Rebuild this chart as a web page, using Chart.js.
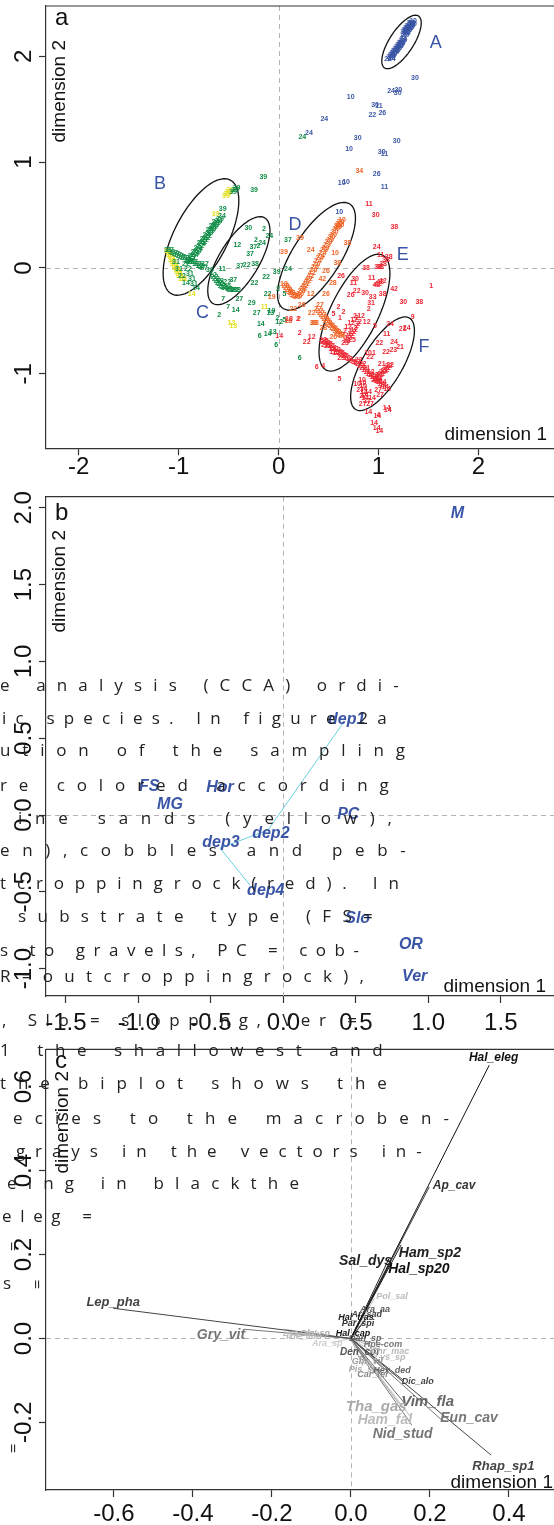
<!DOCTYPE html>
<html>
<head>
<meta charset="utf-8">
<script src="https://cdn.jsdelivr.net/npm/chart.js@4.4.1/dist/chart.umd.min.js"></script>
<style>
body{margin:0;background:#fff;width:554px;height:1525px;position:relative;overflow:hidden}
canvas{position:absolute;left:0}
#capt{position:absolute;left:0;top:0;width:554px;height:1525px;pointer-events:none;font-family:"Open Sans",sans-serif;font-size:17px;color:#222}
.ln{position:absolute;display:flex;justify-content:space-between;white-space:pre;line-height:1}
.rot{position:absolute;transform:rotate(-90deg);line-height:1}
</style>
</head>
<body>
<canvas id="ca" width="554" height="490" style="top:0"></canvas>
<canvas id="cb" width="554" height="545" style="top:490px"></canvas>
<canvas id="cc" width="554" height="490" style="top:1035px"></canvas>
<div id="capt"></div>
<script>
// ---- panel a : site scores, labelled by site number ----
var blueX = [1.260,1.275,1.290,1.305,1.320,1.335,1.345,1.280,1.315,1.330,
  1.115,1.130,1.145,1.160,1.175,1.190,1.205,1.220,1.235,1.245,1.140,1.175,1.210,1.225,1.132,1.095,
  1.365,1.125,1.198,1.192,0.722,0.965,1.005,0.938,1.038,0.457,0.304,0.792,1.182,0.705,1.032,1.058,0.982,0.632,0.675,1.058,0.608,
  1.270,1.285,1.300,1.315,1.330,1.345,1.255,1.270,1.285,1.300,1.320,1.128,1.150,1.168,1.185,1.200,1.215,1.232,1.250]
var blueY = [2.212,2.235,2.259,2.278,2.297,2.316,2.330,2.221,2.268,2.306,
  1.994,2.013,2.032,2.051,2.070,2.089,2.108,2.127,2.146,2.160,2.004,2.046,2.094,2.113,1.973,1.971,
  1.799,1.676,1.682,1.651,1.619,1.541,1.534,1.449,1.468,1.411,1.279,1.232,1.203,1.125,1.099,1.078,0.891,0.801,0.816,0.766,0.527,
  2.200,2.225,2.247,2.266,2.286,2.305,2.225,2.248,2.270,2.290,2.318,1.985,2.020,2.040,2.060,2.082,2.100,2.125,2.150]
var blueLab = [30,30,30,30,30,30,30,24,30,30,
  24,30,30,24,30,30,30,30,30,24,30,30,30,30,24,24,
  30,24,30,30,10,30,11,22,26,24,24,30,30,10,30,11,26,10,10,11,10,
  30,30,30,30,30,30,30,30,30,30,30,30,30,30,30,30,30,30,30]

var greenX = [-0.887,-0.857,-0.827,-0.797,-0.767,-0.737,-0.707,-0.677,-0.647,-0.617,-0.587,-0.567,
  -0.872,-0.842,-0.812,-0.782,-0.752,-0.722,-0.692,-0.662,-0.632,-0.602,
  -1.107,-1.067,-1.027,-0.987,-0.947,-0.907,-0.867,-0.827,-0.787,-0.747,
  -0.927,-0.907,-0.887,-0.867,-0.847,-0.827,-1.027,-0.997,-0.967,-0.927,
  -0.456,-0.436,-0.421,
  -0.657,-0.627,-0.597,-0.567,-0.537,-0.497,-0.456,-0.416,-0.517,-0.587,
  -0.153,-0.246,-0.560,-0.303,-0.146,-0.093,-0.253,-0.413,-0.203,-0.226,-0.166,-0.286,-0.737,-0.794,-0.564,-0.687,
  -0.386,-0.319,-0.453,-0.514,-0.236,-0.126,-0.019,-0.554,-0.393,-0.504,-0.429,-0.594,-0.269,-0.219,-0.178,-0.189,
  -0.111,-0.058,-0.023,0.210,0.006,-0.012,0.059,0.094,0.094,0.059,-0.242,0.237,-0.083,-0.072,-0.111,-0.006,
  -0.902,-0.872,-0.842,-0.812,-0.782,-0.752,-0.722,-0.692,-0.662,-0.632,
  -1.087,-1.047,-1.007,-0.967,-0.927,-0.887,-0.847,-0.807,-0.767,
  -0.642,-0.612,-0.582,-0.552,-0.477,-0.436]
var greenY = [0.057,0.104,0.142,0.180,0.227,0.265,0.302,0.350,0.388,0.425,0.463,0.487,
  0.085,0.123,0.161,0.203,0.246,0.284,0.326,0.369,0.406,0.444,
  0.170,0.151,0.132,0.113,0.095,0.076,0.057,0.038,0.019,0.000,
  0.038,-0.009,-0.057,-0.104,-0.151,-0.189,0.057,-0.009,-0.076,-0.142,
  0.718,0.737,0.756,
  -0.066,-0.104,-0.142,-0.170,-0.189,-0.198,-0.208,-0.208,-0.180,-0.123,
  0.857,0.737,0.558,0.375,0.369,0.302,0.201,0.217,0.208,0.265,0.236,0.130,0.038,0.019,-0.007,-0.019,
  0.019,0.028,-0.113,-0.130,0.038,-0.082,-0.035,-0.296,-0.296,-0.366,-0.397,-0.444,-0.328,-0.423,-0.529,-0.643,
  -0.627,-0.608,-0.728,-0.848,-0.508,-0.475,-0.491,-0.009,0.265,-0.249,-0.139,1.241,-0.428,-0.406,-0.249,-0.198,
  0.070,0.110,0.150,0.190,0.235,0.272,0.312,0.355,0.395,0.432,
  0.165,0.145,0.126,0.108,0.090,0.070,0.052,0.033,0.013,
  -0.085,-0.123,-0.156,-0.180,-0.205,-0.210]
var greenLab = [27,27,24,24,24,22,22,39,39,39,39,24,
  27,24,24,22,22,22,39,39,39,24,
  31,31,27,27,27,22,22,12,12,27,
  22,22,31,31,31,14,31,31,22,14,
  39,39,39,
  22,22,22,22,38,38,38,38,22,22,
  39,39,39,30,2,24,37,12,2,2,24,37,27,12,11,30,
  37,22,37,22,38,22,39,7,27,7,14,2,29,27,14,6,
  14,13,6,6,12,2,5,24,37,5,22,24,13,19,22,2,
  24,24,24,24,24,24,24,24,24,24,
  27,27,27,27,27,27,27,27,27,
  22,22,22,22,22,22]

var yellowX = [-1.107,-1.087,-1.067,-1.047,-1.027,-1.007,-0.987,-0.967,
  -1.092,-1.072,-1.052,-1.032,-1.012,-0.992,
  -0.517,-0.501,-0.486,-0.527,
  -0.630,-0.870,-0.143,-0.472,-0.454,-0.950]
var yellowY = [0.161,0.123,0.076,0.038,0.000,-0.038,-0.076,-0.104,
  0.142,0.100,0.057,0.019,-0.019,-0.057,
  0.699,0.718,0.737,0.681,
  0.510,-0.249,-0.366,-0.517,-0.548,-0.107]
var yellowLab = [31,31,31,31,31,31,31,14, 31,31,31,31,31,31, 39,39,39,39, 39,14,11,13,13,31]

var orangeX = [0.054,0.084,0.114,0.144,0.184,0.214,0.244,0.274,0.304,0.334,0.364,0.394,0.424,0.454,0.484,0.514,0.545,0.575,0.605,0.635,
  0.259,0.319,0.379,0.439,0.499,0.560,0.620,0.099,
  0.394,0.424,0.454,0.484,0.514,0.545,0.575,0.605,0.635,
  0.598,0.688,0.321,0.054,0.214,0.565,0.588,0.437,0.474,0.542,-0.069,0.321,
  0.474,0.414,0.331,0.231,0.204,0.097,0.347,0.147,0.808,0.364,0.447,0.548,
  0.069,0.129,0.164,0.199,0.229,0.289,0.349,0.409,0.469,0.530,0.590,0.620,
  0.409,0.439,0.469,0.499,0.530,0.560,0.590,0.620]
var orangeY = [-0.151,-0.189,-0.227,-0.255,-0.274,-0.246,-0.198,-0.151,-0.104,-0.047,0.009,0.066,0.113,0.170,0.217,0.265,0.312,0.369,0.416,0.454,
  -0.170,-0.075,0.038,0.142,0.241,0.340,0.435,-0.208,
  -0.388,-0.425,-0.463,-0.501,-0.539,-0.567,-0.595,-0.624,-0.643,
  0.385,0.239,0.170,0.154,0.286,0.145,0.050,-0.104,-0.026,-0.145,-0.277,-0.246,
  -0.246,-0.350,-0.428,-0.350,-0.485,-0.501,-0.523,-0.388,0.920,-0.523,-0.570,-0.649,
  -0.170,-0.241,-0.265,-0.262,-0.222,-0.128,-0.019,0.090,0.193,0.289,0.392,0.410,
  -0.406,-0.444,-0.482,-0.520,-0.553,-0.581,-0.610,-0.634]
var orangeLab = [19,28,38,38,26,26,28,42,42,42,26,24,24,28,29,29,30,30,30,10,
  42,42,26,24,29,30,30,28,
  27,27,28,28,26,26,38,38,26,
  30,38,24,39,39,10,38,42,26,28,19,12,
  26,27,22,26,2,18,38,22,34,38,28,26,
  28,38,26,26,28,42,26,24,29,30,30,10,
  27,27,28,28,26,26,38,38]

var redX = [0.444,0.484,0.525,0.565,0.605,0.645,0.685,0.725,0.765,0.464,0.545,0.625,
  0.665,0.695,0.725,0.755,0.785,0.815,0.735,
  1.102,1.075,1.045,1.015,0.995,1.015,0.995,0.978,
  0.785,0.825,0.865,0.905,0.945,0.985,1.025,1.065,1.085,
  0.965,0.995,1.025,1.055,1.085,1.115,
  0.835,0.845,0.855,0.865,0.995,1.015,
  1.082,1.092,
  0.665,0.695,0.725,0.755,0.785,
  0.785,0.815,0.845,0.885,0.915,0.935,0.895,
  0.905,0.972,1.158,0.982,1.022,0.875,0.932,1.042,0.625,0.765,0.748,1.155,1.042,0.782,0.865,0.722,0.942,0.925,1.248,1.408,
  0.598,0.648,0.548,0.615,0.765,0.825,0.882,0.965,1.342,1.282,1.082,1.526,0.210,0.104,0.006,0.193,0.901,0.331,0.281,0.381,
  0.447,0.608,1.115,1.155,1.215,1.008,1.075,1.148,0.915,0.915,1.032,0.898,0.988,0.955,0.982,1.008,0.998,0.842,1.242,
  0.805,0.845,0.885,0.925,0.965,1.005,1.045,0.800,0.840,0.880,0.920,0.960,1.000,1.040,
  0.464,0.505,0.545,0.585,0.625,0.665,0.705,0.745,0.454,0.494,0.535,0.575,
  0.980,1.010,1.040,1.070,1.100,
  0.840,0.850,0.860,
  0.680,0.710,0.740,0.770,0.800]
var redY = [-0.681,-0.709,-0.737,-0.766,-0.794,-0.822,-0.851,-0.879,-0.898,-0.728,-0.794,-0.851,
  -0.709,-0.662,-0.624,-0.586,-0.548,-0.510,-0.681,
  0.107,0.076,0.038,0.009,0.012,-0.130,-0.151,-0.161,
  -0.888,-0.926,-0.964,-1.002,-1.030,-1.068,-1.096,-1.125,-1.144,
  -1.059,-1.030,-1.002,-0.974,-0.945,-0.917,
  -1.059,-1.115,-1.172,-1.229,-1.153,-1.200,
  -1.326,-1.342,
  -0.595,-0.558,-0.520,-0.491,-0.473,
  -1.096,-1.153,-1.210,-1.257,-1.285,-1.229,-1.172,
  0.605,0.501,0.390,0.196,0.123,-0.003,-0.097,-0.120,-0.073,-0.107,-0.145,-0.198,-0.246,-0.215,-0.233,-0.255,-0.271,-0.334,-0.319,-0.319,
  -0.371,-0.413,-0.435,-0.470,-0.454,-0.454,-0.508,-0.548,-0.460,-0.570,-0.624,-0.167,-0.617,-0.486,-0.643,-0.485,-0.390,-0.649,-0.697,-0.933,
  -0.926,-1.052,-0.529,-0.697,-0.744,-0.712,-0.791,-0.775,-0.806,-0.844,-0.910,-1.358,-1.399,-1.468,-1.509,-1.541,-1.389,-1.289,-0.579,
  -0.907,-0.945,-0.983,-1.016,-1.049,-1.082,-1.110,-0.870,-0.910,-0.950,-0.985,-1.015,-1.050,-1.080,
  -0.695,-0.723,-0.752,-0.780,-0.808,-0.836,-0.865,-0.889,-0.700,-0.740,-0.770,-0.800,
  -1.045,-1.016,-0.988,-0.960,-0.931,
  -1.087,-1.143,-1.200,
  -0.686,-0.643,-0.605,-0.567,-0.529]
var redLab = [22,22,17,12,25,25,12,5,5,22,12,25,
  25,12,12,12,2,2,25,
  38,38,38,38,38,42,42,42,
  22,22,11,11,12,12,14,14,14,
  21,21,21,22,22,22,
  10,10,14,14,27,27,
  14,14,
  2,12,12,12,2,
  10,27,27,27,27,14,14,
  11,30,38,24,11,38,11,42,26,30,11,42,38,22,30,26,33,31,30,38,
  2,2,5,1,2,12,12,5,9,24,11,1,2,18,14,2,2,12,22,6,
  4,5,24,24,21,22,22,23,101,22,21,14,14,14,14,14,4,27,21,
  22,22,11,12,12,14,14,22,22,11,12,12,14,14,
  25,25,12,12,25,25,12,5,22,22,12,12,
  21,21,22,22,22,
  10,14,14,
  12,12,12,2,2]

// groups (ellipses) and their letters
var grpLab = ['A','B','C','D','E','F']
var grpX = [1.573,-1.187,-0.762,0.164,1.243,1.455]
var grpY = [2.124,0.794,-0.428,0.406,0.123,-0.750]
var ellCx = [1.230,-0.777,-0.398,0.379,0.759,1.040]
var ellCy = [2.136,0.293,0.069,0.111,-0.422,-0.905]
var ellUx = [0.170,0.293,0.260,0.333,0.282,0.269]
var ellUy = [0.245,0.538,0.404,0.494,0.543,0.432]
var ellVx = [0.100,0.240,0.171,0.203,0.215,0.172]
var ellVy = [-0.062,-0.117,-0.098,-0.122,-0.100,-0.096]

// ---- panel b : environmental variables ----
var envLab = ['M','dep1','dep2','dep3','dep4','FS','Hor','MG','PC','Slo','OR','Ver']
var envX = [1.200,0.437,-0.086,-0.430,-0.121,-0.925,-0.437,-0.782,0.448,0.513,0.880,0.906]
var envY = [1.961,0.619,-0.124,-0.180,-0.489,0.184,0.180,0.065,0.000,-0.673,-0.842,-1.053]
var depX = [0.418,-0.106,-0.437,-0.230]
var depY = [0.606,-0.098,-0.215,-0.456]

// ---- panel c : species vectors ----
var spName = ['Hal_eleg','Ap_cav','Ham_sp2','Hal_sp20','Sal_dys','Lep_pha','Gry_vit','Rhap_sp1','Eun_cav','Vim_fla','Nid_stud','Tha_gas','Ham_fal','Dic_alo','Pol_sal',
  'Ara_aa','Ar_sad','Hal_tras','Par_spi','Hal_cap','Dan_sp','Hpe-com','Den_cor','Chr_mac','Lys_sp','Ghr_vil','Pis_sp','Hex_ded','Car_fer','Ola_sp','Lys_ant','The_abb','Ara_sp']
var spTipX = [0.350,0.198,0.127,0.100,0.096,-0.602,-0.271,0.355,0.234,0.139,0.154,0.122,0.150,0.132,0.060,
  0.045,0.035,0.020,0.015,0.010,0.030,0.050,0.020,0.070,0.070,0.035,0.030,0.080,0.050,-0.160,-0.170,-0.150,-0.050]
var spTipY = [0.651,0.361,0.223,0.180,0.190,0.072,0.022,-0.278,-0.198,-0.158,-0.206,-0.156,-0.186,-0.099,0.096,
  0.055,0.045,0.040,0.030,0.010,0.000,-0.010,-0.025,-0.025,-0.040,-0.050,-0.065,-0.070,-0.075,0.018,0.022,0.010,-0.010]
var spLabX = [0.361,0.261,0.200,0.172,0.037,-0.602,-0.329,0.386,0.299,0.194,0.131,0.064,0.086,0.169,0.104,
  0.061,0.040,0.013,0.018,0.005,0.036,0.081,0.023,0.099,0.099,0.041,0.031,0.104,0.056,-0.091,-0.129,-0.121,-0.060]
var spLabY = [0.669,0.365,0.204,0.165,0.185,0.085,0.008,-0.304,-0.189,-0.150,-0.227,-0.162,-0.194,-0.103,0.099,
  0.068,0.056,0.049,0.035,0.013,0.001,-0.015,-0.032,-0.032,-0.046,-0.056,-0.073,-0.077,-0.085,0.013,0.013,0.004,-0.011]
var spCol = ['#111','#333','#222','#111','#222','#444','#777','#444','#777','#666','#777','#aaa','#bbb','#444','#bbb',
  '#555','#444','#222','#333','#111','#666','#777','#555','#bbb','#bbb','#999','#aaa','#666','#888','#aaa','#bbb','#bbb','#ccc']
var spSize = [12,12,14,14,14,13,14,13,14,15,14,15,14,9,9, 9,9,9,9,9,9,9,10,9,9,9,9,9,9,9,9,9,9]

// tick values
var xTicksA = [-2,-1,0,1,2], yTicksA = [-1,0,1,2]
var xTicksB = [-1.5,-1,-0.5,0,0.5,1,1.5], yTicksB = [-1,-0.5,0,0.5,1,1.5,2]
var xTicksC = [-0.6,-0.4,-0.2,0,0.2,0.4], yTicksC = [-0.2,0,0.2,0.4,0.6]

var SANS = '"Liberation Sans", Arial, sans-serif'
var BLUE = '#3a55a5'

function pts(xs, ys) {
  var out = []
  for (let i = 0; i < Math.min(xs.length, ys.length); i++) out.push({x: xs[i], y: ys[i]})
  return out
}

var drawPlug = {
  id: 'drawPlug',
  beforeDatasetsDraw(chart, args, o) {
    var ctx = chart.ctx, a = chart.chartArea, sx = chart.scales.x, sy = chart.scales.y
    ctx.save()
    ctx.strokeStyle = '#b3b3b3'; ctx.lineWidth = 1; ctx.setLineDash([5, 4])
    var px = Math.round(sx.getPixelForValue(0)) + 0.5, py = Math.round(sy.getPixelForValue(0)) + 0.5
    ctx.beginPath()
    ctx.moveTo(px, a.top); ctx.lineTo(px, a.bottom)
    ctx.moveTo(a.left, py); ctx.lineTo(a.right, py)
    ctx.stroke()
    ctx.restore()
  },
  afterDatasetsDraw(chart, args, o) {
    var ctx = chart.ctx, sx = chart.scales.x, sy = chart.scales.y
    if (o.ell) {
      ctx.save(); ctx.strokeStyle = '#111'; ctx.lineWidth = 1.3
      for (let k = 0; k < ellCx.length; k++) {
        ctx.beginPath()
        for (let s = 0; s <= 100; s++) {
          var t = s / 100 * 2 * Math.PI
          var vx = ellCx[k] + Math.cos(t) * ellUx[k] + Math.sin(t) * ellVx[k]
          var vy = ellCy[k] + Math.cos(t) * ellUy[k] + Math.sin(t) * ellVy[k]
          var qx = sx.getPixelForValue(vx), qy = sy.getPixelForValue(vy)
          if (s) ctx.lineTo(qx, qy); else ctx.moveTo(qx, qy)
        }
        ctx.stroke()
      }
      ctx.restore()
    }
    chart.data.datasets.forEach((ds, i) => {
      if (!ds.marks) return
      var meta = chart.getDatasetMeta(i)
      ctx.save(); ctx.textAlign = 'center'; ctx.textBaseline = 'middle'
      meta.data.forEach((el, j) => {
        ctx.font = Array.isArray(ds.markFont) ? ds.markFont[j] : ds.markFont
        ctx.fillStyle = Array.isArray(ds.markColor) ? ds.markColor[j] : ds.markColor
        ctx.fillText(String(ds.marks[j]), el.x, el.y)
      })
      ctx.restore()
    })
  },
  afterDraw(chart, args, o) {
    var ctx = chart.ctx, a = chart.chartArea, sx = chart.scales.x, sy = chart.scales.y
    ctx.save()
    ctx.strokeStyle = '#333'; ctx.lineWidth = 1.2
    ctx.beginPath(); ctx.moveTo(a.left, a.top); ctx.lineTo(a.right + 2, a.top); ctx.stroke()
    ctx.fillStyle = '#111'
    ctx.font = '24px ' + SANS
    ctx.textAlign = 'center'; ctx.textBaseline = 'middle'
    sx.ticks.forEach(t => ctx.fillText(t.value.toFixed(o.dec), sx.getPixelForValue(t.value), o.xLabY))
    sy.ticks.forEach(t => {
      ctx.save(); ctx.translate(24, sy.getPixelForValue(t.value)); ctx.rotate(-Math.PI / 2)
      ctx.fillText(t.value.toFixed(o.dec), 0, 0); ctx.restore()
    })
    ctx.font = '19px ' + SANS
    ctx.textAlign = 'right'
    ctx.fillText('dimension 1', o.d1R, o.d1Y)
    ctx.save(); ctx.translate(o.d2X, o.d2Top); ctx.rotate(-Math.PI / 2)
    ctx.textAlign = 'right'; ctx.fillText('dimension 2', 0, 0); ctx.restore()
    ctx.font = '24px ' + SANS
    ctx.textAlign = 'left'; ctx.textBaseline = 'alphabetic'
    ctx.fillText(o.letter, 55, o.letterY)
    ctx.restore()
  }
}

function opts(p, xt, yt) {
  return {
    responsive: false, animation: false, events: [],
    layout: {padding: {top: p.top, right: 0, left: 0, bottom: 0}},
    plugins: {legend: {display: false}, tooltip: {enabled: false}, drawPlug: p},
    scales: {
      x: {type: 'linear', bounds: 'data', min: p.xr[0], max: p.xr[1],
        afterBuildTicks: s => { s.ticks = xt.map(v => ({value: v})) },
        afterFit: s => { s.height = p.xh },
        ticks: {display: false},
        grid: {drawOnChartArea: false, drawTicks: true, tickLength: 7, tickWidth: 1.2, tickColor: '#333'},
        border: {display: true, color: '#333', width: 1.2}},
      y: {type: 'linear', bounds: 'data', min: p.yr[0], max: p.yr[1],
        afterBuildTicks: s => { s.ticks = yt.map(v => ({value: v})) },
        afterFit: s => { s.width = 46 },
        ticks: {display: false},
        grid: {drawOnChartArea: false, drawTicks: true, tickLength: 7, tickWidth: 1.2, tickColor: '#333'},
        border: {display: true, color: '#333', width: 1.2}}
    }
  }
}

function labelSet(xs, ys, marks, font, color) {
  return {data: pts(xs, ys), marks: marks, markFont: font, markColor: color, pointRadius: 0, showLine: false}
}

// panel a
var siteFont = 'bold 7px ' + SANS
new Chart(document.getElementById('ca'), {
  type: 'scatter',
  data: {datasets: [
    labelSet(yellowX, yellowY, yellowLab, siteFont, '#e3df1f'),
    labelSet(greenX, greenY, greenLab, siteFont, '#0f8c46'),
    labelSet(orangeX, orangeY, orangeLab, siteFont, '#ef6427'),
    labelSet(redX, redY, redLab, siteFont, '#ec2633'),
    labelSet(blueX, blueY, blueLab, siteFont, BLUE),
    labelSet(grpX, grpY, grpLab, '18px ' + SANS, BLUE)
  ]},
  options: opts({top: 6, xh: 41.7, xr: [-2.328, 2.756], yr: [-1.704, 2.476], dec: 0, xLabY: 467,
    d1R: 547, d1Y: 435, d2X: 60, d2Top: 40, letter: 'a', letterY: 25, ell: true}, xTicksA, yTicksA),
  plugins: [drawPlug]
})

// panel b
new Chart(document.getElementById('cb'), {
  type: 'scatter',
  data: {datasets: [
    {data: pts(depX, depY), showLine: true, borderColor: '#6ccfe0', borderWidth: 1, pointRadius: 0},
    labelSet(envX, envY, envLab, 'italic bold 16px ' + SANS, BLUE)
  ]},
  options: opts({top: 6.7, xh: 39, xr: [-1.637, 1.867], yr: [-1.178, 2.072], dec: 1, xLabY: 533.5,
    d1R: 546, d1Y: 497, d2X: 60, d2Top: 40, letter: 'b', letterY: 30}, xTicksB, yTicksB),
  plugins: [drawPlug]
})

// panel c
var vecSets = spName.map((n, i) => ({
  data: [{x: 0, y: 0}, {x: spTipX[i], y: spTipY[i]}], showLine: true,
  borderColor: spCol[i], borderWidth: 1, pointRadius: 0
}))
vecSets.push(labelSet(spLabX, spLabY, spName, spSize.map(s => 'italic bold ' + s + 'px ' + SANS), spCol))
new Chart(document.getElementById('cc'), {
  type: 'scatter',
  data: {datasets: vecSets},
  options: opts({top: 14.3, xh: 35, xr: [-0.772, 0.514], yr: [-0.361, 0.689], dec: 1, xLabY: 479,
    d1R: 553, d1Y: 448, d2X: 63, d2Top: 36, letter: 'c', letterY: 33}, xTicksC, yTicksC),
  plugins: [drawPlug]
})

// caption text running over the figure
var captLines = [
  ['e analysis (CCA) ordi-', 0, 399, 687],
  ['ic species. In figure 2a', 2, 387, 720],
  ['ution of the sampling', 0, 405, 752],
  ['re colored according', 0, 389, 787],
  ['ine sands (yellow),', 18, 392, 820],
  ['en),cobbles and peb-', 0, 406, 852],
  ['tcroppingrock(red). In', 0, 399, 885],
  ['substrate type (FS=', 18, 373, 918],
  ['s to gravels, PC = cob-', 0, 359, 952],
  ['R=outcroppingrock),', 0, 364, 978],
  [', Slo = slopping, Ver =', 2, 357, 1022],
  ['1 the shallowest and', 0, 383, 1052],
  ['the biplot shows the', 0, 387, 1085],
  ['ecies to the macroben-', 13, 449, 1120],
  ['grays in the vectors in-', 16, 422, 1153],
  ['eing in blackthe', 7, 299, 1185],
  ['eleg =', 2, 92, 1218],
  ['s', 3, 12, 1285]
]
var capt = document.getElementById('capt')
captLines.forEach(l => {
  var d = document.createElement('div')
  d.className = 'ln'
  d.style.left = l[1] + 'px'
  d.style.width = (l[2] - l[1]) + 'px'
  d.style.top = (l[3] - 10.6) + 'px'
  for (const ch of l[0]) {
    var s = document.createElement('span')
    s.textContent = ch
    d.appendChild(s)
  }
  capt.appendChild(d)
})
;[[13, 1247], [37, 1285], [13, 1449]].forEach(p => {
  var r = document.createElement('div')
  r.className = 'rot'
  r.textContent = '='
  r.style.left = (p[0] - 5) + 'px'
  r.style.top = (p[1] - 9) + 'px'
  capt.appendChild(r)
})
</script>
</body>
</html>
